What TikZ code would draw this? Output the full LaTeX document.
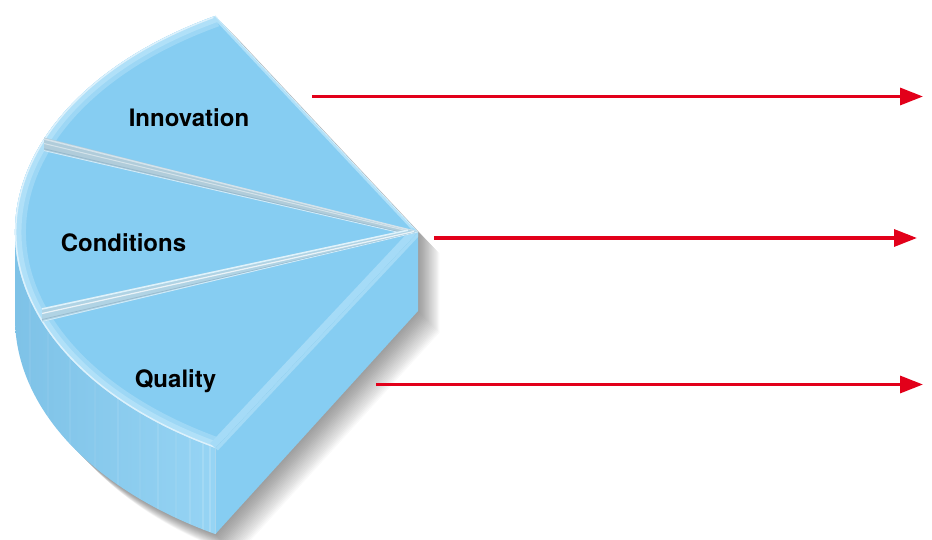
\documentclass[tikz,border=0pt]{standalone}
\usepackage{fontspec}
\setmainfont{TeX Gyre Heros}
\usetikzlibrary{arrows.meta}
\definecolor{faceblue}{RGB}{134,205,242}
\definecolor{rimblue}{RGB}{176,224,248}
\definecolor{sidedark}{RGB}{126,194,231}
\definecolor{sidelight}{RGB}{150,212,244}
\definecolor{groovegray}{RGB}{176,204,218}
\definecolor{groovedark}{RGB}{152,186,205}
\definecolor{arrowred}{RGB}{226,0,26}
\begin{document}
\begin{tikzpicture}[x=1pt,y=-1pt,
  lbl/.style={font=\bfseries\fontsize{24}{28}\selectfont, text=black, inner sep=0pt, anchor=base},
  redarrow/.style={draw=arrowred, line width=3.3pt, -{Triangle[length=23pt,width=17pt]}},
  ell/.style={x radius=403, y radius=250}]
\useasboundingbox (0,0) rectangle (932,540);

% soft shadow
\foreach \k in {1,...,24}{
  \fill[black,opacity=0.018,shift={(0.9*\k,0.9*\k)}]
    (215.3,15.9) arc[start angle=239.8,end angle=180,ell] -- (15,318)
    arc[start angle=180,end angle=120.2,ell] -- (418,311) -- (418,232) -- cycle;
}

% outer curved side
\path[left color=sidedark, right color=sidelight]
  (15,232) arc[start angle=180,end angle=120.2,ell] -- (215.3,534.1)
  arc[start angle=120.2,end angle=180,ell] -- cycle;
\begin{scope}
  \clip (15,232) arc[start angle=180,end angle=120.2,ell] -- (215.3,534.1)
    arc[start angle=120.2,end angle=180,ell] -- cycle;
  \foreach \xx/\op in {30/0.06,48/0.05,70/0.06,95/0.05,118/0.08,140/0.05,158/0.09,176/0.07,190/0.11,203/0.14,210/0.16}{
    \draw[white,opacity=\op,line width=1.2pt] (\xx,200) -- (\xx,540);
  }
\end{scope}

% right flat face
\fill[faceblue] (418,232) -- (215.3,448.1) -- (215.3,534.1) -- (418,311) -- cycle;
\begin{scope}
  \clip (418,232) -- (215.3,448.1) -- (215.3,534.1) -- (418,311) -- cycle;
  \draw[rimblue!70!faceblue, line width=7pt] (418,232) -- (215.3,448.1);
  \draw[white!40!faceblue, line width=1.4pt] (215.3,448.1) -- (215.3,534.1);
\end{scope}

% top face
\fill[faceblue] (418,232) -- (215.3,15.9) arc[start angle=239.8,end angle=120.2,ell] -- cycle;
\begin{scope}
  \clip (418,232) -- (215.3,15.9) arc[start angle=239.8,end angle=120.2,ell] -- cycle;
  \draw[rimblue!55!faceblue, line width=22pt] (215.3,15.9) arc[start angle=239.8,end angle=120.2,ell];
  \draw[rimblue, line width=13pt] (215.3,15.9) arc[start angle=239.8,end angle=120.2,ell];
  \draw[white!55!rimblue, line width=3pt] (215.3,15.9) arc[start angle=239.8,end angle=120.2,ell];
  \draw[rimblue, line width=6pt] (215.3,15.9) -- (418,232);
  \draw[white!50!rimblue, line width=1.2pt] (215.3,15.9) -- (418,232);
  \draw[rimblue!75!faceblue, line width=14pt] (418,232) -- (215.3,448.1);
  \draw[white!40!rimblue, line width=1.2pt, opacity=0.8] (414,239) -- (212,455);
\end{scope}

% dividers
\fill[groovegray] (44,137.5) -- (418,232) -- (408,234.5) -- (44,151) -- cycle;
\draw[white!45!groovegray, line width=1.5pt] (44,139) -- (418,232);
\draw[white, opacity=0.45, line width=1pt] (44,143.5) -- (412,232);
\draw[groovedark, line width=0.8pt] (44,148.8) -- (408,234);
\draw[white!40!rimblue, line width=0.8pt] (44,150.6) -- (408,234.6);
\fill[groovegray!65!rimblue] (42,308) -- (408,229.5) -- (418,232) -- (42,322) -- cycle;
\draw[white!60!rimblue, line width=1.5pt] (42,309) -- (408,230.2);
\draw[white, opacity=0.75, line width=1.2pt] (42,313.5) -- (414,231.5);
\draw[groovedark, line width=0.7pt] (42,319.5) -- (418,232);
\draw[white!40!rimblue, line width=0.8pt] (42,321.5) -- (418,232);

% labels
\node[lbl] (inn) at (189,127) {Innovation};
\node[lbl] (con) at (123.5,252) {Conditions};
\node[lbl] (qua) at (175.5,387) {Quality};

% arrows
\coordinate (a1s) at (312,96.5);
\coordinate (a1e) at (923,96.5);
\coordinate (a2s) at (434,238);
\coordinate (a2e) at (917,238);
\coordinate (a3s) at (376,384.5);
\coordinate (a3e) at (923,384.5);
\draw[redarrow] (a1s) -- (a1e);
\draw[redarrow] (a2s) -- (a2e);
\draw[redarrow] (a3s) -- (a3e);
\end{tikzpicture}
\end{document}
